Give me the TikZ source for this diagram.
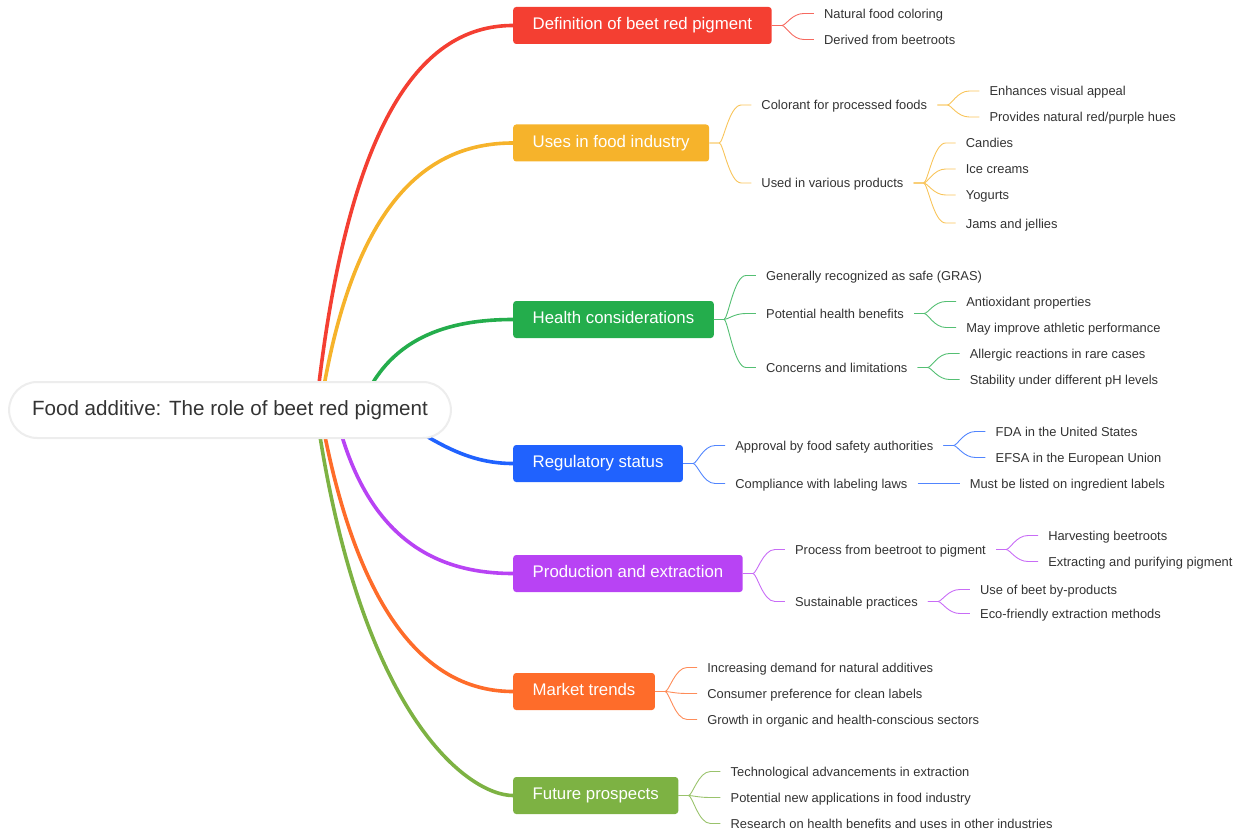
\documentclass[tikz,border=0pt]{standalone}
\usepackage{fontspec}
\setmainfont{Liberation Sans}
\usepackage{xcolor}
\usetikzlibrary{positioning, calc, backgrounds}

\definecolor{mmRed}{HTML}{F43F32}
\definecolor{mmYellow}{HTML}{F6B32B}
\definecolor{mmGreen}{HTML}{24AD4C}
\definecolor{mmBlue}{HTML}{2062FE}
\definecolor{mmPurple}{HTML}{B843F4}
\definecolor{mmOrange}{HTML}{FE6C2A}
\definecolor{mmLime}{HTML}{7DB243}
\definecolor{inkgray}{HTML}{333333}

\newcommand{\rootfont}{\fontsize{20.6pt}{24pt}\selectfont}
\newcommand{\topicfont}{\fontsize{16.8pt}{20pt}\selectfont}
\newcommand{\detailfont}{\fontsize{12.9pt}{15pt}\selectfont}

\tikzset{
    centre/.style={rectangle, rounded corners=28pt, draw=black!7, line width=2pt, fill=white, minimum height=56pt, inner xsep=23pt, text=inkgray, font=\rootfont},
    topic/.style={rectangle, rounded corners=3pt, fill=#1, text=white, minimum height=37pt, inner xsep=19.5pt, text height=12pt, text depth=3.5pt, anchor=west, font=\topicfont},
    detail/.style={rectangle, inner xsep=10pt, inner ysep=0pt, text height=11pt, text depth=1pt, text=inkgray, font=\detailfont},
    trunk/.style={draw=#1, line width=3.6pt},
    twig/.style={draw=#1!78!white, line width=0.9pt, to path={-- ++(10,0) .. controls +(4,0) and +(-12,0) .. ($(\tikztotarget)+(-10,0)$) -- (\tikztotarget)}},
}

\begin{document}
\begin{tikzpicture}[x=1pt, y=-1pt]
    \useasboundingbox (0,0) rectangle (1240,832);

    % Central topic
    \node[centre] (root) at (230,410) {Food additive: The role of beet red pigment};

    % Main topics
    \node[topic=mmRed] (def) at (513,25.5) {Definition of beet red pigment};
    \node[topic=mmYellow] (uses) at (513,143) {Uses in food industry};
    \node[topic=mmGreen] (health) at (513,319.5) {Health considerations};
    \node[topic=mmBlue] (reg) at (513,463.5) {Regulatory status};
    \node[topic=mmPurple] (prod) at (513,573.5) {Production and extraction};
    \node[topic=mmOrange] (market) at (513,691.5) {Market trends};
    \node[topic=mmLime] (future) at (513,795.5) {Future prospects};

    % Trunks from the centre
    \begin{scope}[on background layer]
        \draw[trunk=mmRed] ($(root.center)+(86,0)$) .. controls (349,100) and (431,25.5) .. (def.west);
        \draw[trunk=mmYellow] ($(root.center)+(90,0)$) .. controls (353,195) and (432,143) .. (uses.west);
        \draw[trunk=mmGreen] ($(root.center)+(130,0)$) .. controls (386,337) and (449,319.5) .. (health.west);
        \draw[trunk=mmBlue] ($(root.center)+(170,10)$) .. controls (440,445) and (470,463.5) .. (reg.west);
        \draw[trunk=mmPurple] ($(root.center)+(105,0)$) .. controls (365,541) and (438,573.5) .. (prod.west);
        \draw[trunk=mmOrange] ($(root.center)+(90,0)$) .. controls (360,636) and (440,691.5) .. (market.west);
        \draw[trunk=mmLime] ($(root.center)+(86,0)$) .. controls (360,720) and (470,795.5) .. (future.west);
    \end{scope}

    % Definition
    \node[detail, right=42pt of def, yshift=12pt] (natural) {Natural food coloring};
    \node[detail, right=42pt of def, yshift=-14pt] (derived) {Derived from beetroots};
    \draw[twig=mmRed] (def.east) to (natural.west);
    \draw[twig=mmRed] (def.east) to (derived.west);

    % Uses
    \node[detail, right=42pt of uses, yshift=38pt] (colorant) {Colorant for processed foods};
    \node[detail, right=42pt of uses, yshift=-40pt] (various) {Used in various products};
    \node[detail, right=42pt of colorant, yshift=14pt] (enhance) {Enhances visual appeal};
    \node[detail, right=42pt of colorant, yshift=-12pt] (hues) {Provides natural red/purple hues};
    \node[detail, right=42pt of various, yshift=40pt] (candies) {Candies};
    \node[detail, right=42pt of various, yshift=14pt] (icecream) {Ice creams};
    \node[detail, right=42pt of various, yshift=-12pt] (yogurt) {Yogurts};
    \node[detail, right=42pt of various, yshift=-40pt] (jams) {Jams and jellies};
    \draw[twig=mmYellow] (uses.east) to (colorant.west);
    \draw[twig=mmYellow] (uses.east) to (various.west);
    \draw[twig=mmYellow] (colorant.east) to (enhance.west);
    \draw[twig=mmYellow] (colorant.east) to (hues.west);
    \draw[twig=mmYellow] (various.east) to (candies.west);
    \draw[twig=mmYellow] (various.east) to (icecream.west);
    \draw[twig=mmYellow] (various.east) to (yogurt.west);
    \draw[twig=mmYellow] (various.east) to (jams.west);

    % Health
    \node[detail, right=42pt of health, yshift=44pt] (gras) {Generally recognized as safe (GRAS)};
    \node[detail, right=42pt of health, yshift=6pt] (benefits) {Potential health benefits};
    \node[detail, right=42pt of health, yshift=-48pt] (concerns) {Concerns and limitations};
    \node[detail, right=42pt of benefits, yshift=12pt] (antiox) {Antioxidant properties};
    \node[detail, right=42pt of benefits, yshift=-14pt] (athletic) {May improve athletic performance};
    \node[detail, right=42pt of concerns, yshift=14pt] (allergic) {Allergic reactions in rare cases};
    \node[detail, right=42pt of concerns, yshift=-12pt] (stability) {Stability under different pH levels};
    \draw[twig=mmGreen] (health.east) to (gras.west);
    \draw[twig=mmGreen] (health.east) to (benefits.west);
    \draw[twig=mmGreen] (health.east) to (concerns.west);
    \draw[twig=mmGreen] (benefits.east) to (antiox.west);
    \draw[twig=mmGreen] (benefits.east) to (athletic.west);
    \draw[twig=mmGreen] (concerns.east) to (allergic.west);
    \draw[twig=mmGreen] (concerns.east) to (stability.west);

    % Regulatory
    \node[detail, right=42pt of reg, yshift=18pt] (approval) {Approval by food safety authorities};
    \node[detail, right=42pt of reg, yshift=-20pt] (labeling) {Compliance with labeling laws};
    \node[detail, right=42pt of approval, yshift=14pt] (fda) {FDA in the United States};
    \node[detail, right=42pt of approval, yshift=-12pt] (efsa) {EFSA in the European Union};
    \node[detail, right=42pt of labeling] (listed) {Must be listed on ingredient labels};
    \draw[twig=mmBlue] (reg.east) to (approval.west);
    \draw[twig=mmBlue] (reg.east) to (labeling.west);
    \draw[twig=mmBlue] (approval.east) to (fda.west);
    \draw[twig=mmBlue] (approval.east) to (efsa.west);
    \draw[twig=mmBlue] (labeling.east) to (listed.west);

    % Production
    \node[detail, right=42pt of prod, yshift=24pt] (process) {Process from beetroot to pigment};
    \node[detail, right=42pt of prod, yshift=-28pt] (sustain) {Sustainable practices};
    \node[detail, right=42pt of process, yshift=14pt] (harvest) {Harvesting beetroots};
    \node[detail, right=42pt of process, yshift=-12pt] (extract) {Extracting and purifying pigment};
    \node[detail, right=42pt of sustain, yshift=12pt] (byprod) {Use of beet by-products};
    \node[detail, right=42pt of sustain, yshift=-12pt] (ecofr) {Eco-friendly extraction methods};
    \draw[twig=mmPurple] (prod.east) to (process.west);
    \draw[twig=mmPurple] (prod.east) to (sustain.west);
    \draw[twig=mmPurple] (process.east) to (harvest.west);
    \draw[twig=mmPurple] (process.east) to (extract.west);
    \draw[twig=mmPurple] (sustain.east) to (byprod.west);
    \draw[twig=mmPurple] (sustain.east) to (ecofr.west);

    % Market
    \node[detail, right=42pt of market, yshift=24pt] (demand) {Increasing demand for natural additives};
    \node[detail, right=42pt of market, yshift=-2pt] (clean) {Consumer preference for clean labels};
    \node[detail, right=42pt of market, yshift=-28pt] (growth) {Growth in organic and health-conscious sectors};
    \draw[twig=mmOrange] (market.east) to (demand.west);
    \draw[twig=mmOrange] (market.east) to (clean.west);
    \draw[twig=mmOrange] (market.east) to (growth.west);

    % Future
    \node[detail, right=42pt of future, yshift=24pt] (tech) {Technological advancements in extraction};
    \node[detail, right=42pt of future, yshift=-2pt] (newapp) {Potential new applications in food industry};
    \node[detail, right=42pt of future, yshift=-28pt] (research) {Research on health benefits and uses in other industries};
    \draw[twig=mmLime] (future.east) to (tech.west);
    \draw[twig=mmLime] (future.east) to (newapp.west);
    \draw[twig=mmLime] (future.east) to (research.west);
\end{tikzpicture}
\end{document}
